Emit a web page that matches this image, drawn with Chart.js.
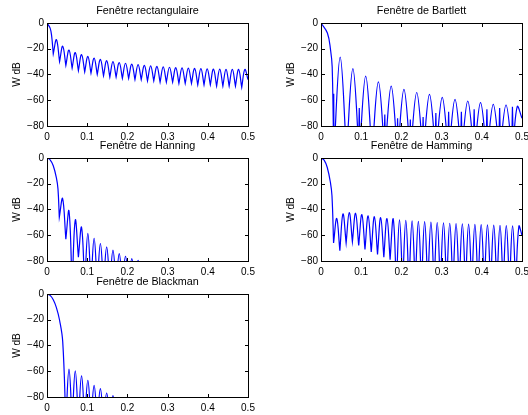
<!DOCTYPE html>
<html>
<head>
<meta charset="utf-8">
<script src="https://cdn.jsdelivr.net/npm/chart.js@4.4.1/dist/chart.umd.min.js"></script>
<style>
  body { margin: 0; background: #fff; }
  #wrap { position: relative; width: 528px; height: 415px; overflow: hidden; }
  #wrap canvas { position: absolute; }
</style>
</head>
<body>
<div id="wrap">
  <canvas id="rect" width="264" height="140" style="left:0;top:0"></canvas>
  <canvas id="bart" width="254" height="140" style="left:274px;top:0"></canvas>
  <canvas id="hann" width="264" height="140" style="left:0;top:135px"></canvas>
  <canvas id="hamm" width="254" height="140" style="left:274px;top:135px"></canvas>
  <canvas id="black" width="264" height="144" style="left:0;top:271px"></canvas>
</div>
<script>
// axes
const freqTicks = [0, 0.1, 0.2, 0.3, 0.4, 0.5];
const dbTicks = [-80, -60, -40, -20, 0];

// rectangular window (N = 64)
const rectMainF = [0, 0.0078, 0.0117];
const rectMainDb = [0, -4, -10.5];
const rectNulls = [0.0156, 0.0313, 0.0469, 0.0625, 0.0781, 0.0938, 0.1094, 0.125, 0.1406, 0.1563,
  0.1719, 0.1875, 0.2031, 0.2188, 0.2344, 0.25, 0.2656, 0.2813, 0.2969, 0.3125,
  0.3281, 0.3438, 0.3594, 0.375, 0.3906, 0.4063, 0.4219, 0.4375, 0.4531, 0.4688, 0.4844];
const rectDipDb = [-24, -30, -33, -35, -37, -38, -39, -40, -41, -42,
  -42, -43, -43, -44, -44, -45, -45, -46, -46, -46,
  -47, -47, -47, -48, -48, -48, -49, -49, -49, -49, -50];
const rectPeakDb = [-13, -18, -21, -23, -24.6, -26, -27.2, -28.3, -29.2, -30,
  -30.7, -31.3, -31.9, -32.4, -32.9, -33.3, -33.7, -34.1, -34.4, -34.7,
  -34.9, -35.1, -35.3, -35.5, -35.7, -35.8, -35.9, -36, -36.1, -36.1, -36.1];
const rectEnd = [0.5, -44];

// Bartlett
const bartMainF = [0, 0.0159, 0.0238, 0.0278];
const bartMainDb = [0, -7.8, -21, -34];
const bartNulls = [0.0317, 0.0635, 0.0952, 0.127, 0.1587, 0.1905, 0.2222, 0.254, 0.2857, 0.3175,
  0.3492, 0.381, 0.4127, 0.4444, 0.4762];
const bartDipDb = [-100, -100, -100, -100, -100, -100, -100, -100, -100, -100,
  -100, -100, -100, -100, -100];
const bartNotchDb = [-55, -90, -66, -90, -71, -74, -75, -73, -70, -69,
  -69, -67, -67, -66, -65];
const bartPeakDb = [-26.5, -35.5, -41.3, -45.7, -49, -51.6, -54, -55.5, -57.8, -59.4,
  -60.6, -61.9, -63.2, -63.7, -65];
const bartEnd = [0.5, -74];

// Hanning
const hannMainF = [0, 0.0078, 0.0156, 0.0234, 0.0273];
const hannMainDb = [0, -1.4, -6, -15.4, -24];
const hannNulls = [0.0306, 0.0469, 0.0625, 0.0781, 0.0938, 0.1094, 0.125, 0.1406, 0.1563, 0.1719,
  0.1875, 0.2031, 0.2188, 0.2344];
const hannDipDb = [-46, -63, -100, -77, -100, -100, -100, -100, -100, -100,
  -100, -100, -100, -100];
const hannPeakDb = [-31.5, -41.2, -48.2, -53.9, -58.6, -62.5, -66.4, -69, -71.6, -74.2,
  -76.3, -78.1, -79.5];

// Hamming
const hammMainF = [0, 0.0078, 0.0156, 0.0234, 0.0273];
const hammMainDb = [0, -1.7, -7.4, -18.9, -29.4];
const hammNulls = [0.0313, 0.0469, 0.0625, 0.0781, 0.0938, 0.1094, 0.125, 0.1406, 0.1563, 0.1719,
  0.1875, 0.2031, 0.2188, 0.2344, 0.25, 0.2656, 0.2813, 0.2969, 0.3125, 0.3281,
  0.3438, 0.3594, 0.375, 0.3906, 0.4063, 0.4219, 0.4375, 0.4531, 0.4688, 0.4844];
const hammDipDb = [-66, -72, -66, -65, -68, -71, -73, -75, -77, -79,
  -100, -100, -100, -100, -100, -100, -100, -100, -100, -100,
  -100, -100, -100, -100, -100, -100, -100, -100, -100, -100];
const hammPeakDb = [-47, -43.5, -42.5, -43, -44, -45, -45.6, -46.4, -47, -47.4,
  -48, -48.4, -48.8, -49.2, -49.5, -49.8, -50.1, -50.4, -50.7, -51,
  -51.2, -51.4, -51.6, -51.8, -52, -52.2, -52.4, -52.6, -52.8, -53];
const hammEnd = [0.5, -60];

// Blackman
const blackMainF = [0, 0.0078, 0.0156, 0.0234, 0.0313, 0.0391];
const blackMainDb = [0, -1.1, -4.5, -10.6, -20.4, -37];
const blackNulls = [0.0469, 0.0625, 0.0781, 0.0938, 0.1094, 0.125, 0.1406, 0.1563, 0.1719, 0.1875];
const blackDipDb = [-100, -100, -100, -100, -100, -100, -100, -100, -100, -100];
const blackPeakDb = [-58.4, -59.7, -63.6, -67, -70.9, -73.5, -76.9, -79, -82];

const FONT = "'Liberation Sans', Arial, Helvetica, sans-serif";

// main lobe, then one arch per side lobe, cusp (or notch) at each null
function curve(w) {
  const pts = w.mainF.map((f, i) => ({ x: f, y: w.mainDb[i] }));
  w.nulls.forEach((f, i) => {
    pts.push({ x: f, y: w.dips[i] });
    if (w.notches) {
      pts.push({ x: f, y: w.notches[i] });
    }
    pts.push({ x: f, y: w.dips[i] });
    if (i < w.peaks.length) {
      const next = i + 1 < w.nulls.length ? w.nulls[i + 1] : w.end[0];
      pts.push({ x: (f + next) / 2, y: w.peaks[i] });
    }
  });
  if (w.end) pts.push({ x: w.end[0], y: w.end[1] });
  return pts;
}

// matlab style box with inward ticks, placed from the scales themselves
function drawBox(chart) {
  try {
    const ctx = chart.ctx, x = chart.scales.x, y = chart.scales.y;
    const L = Math.round(x.getPixelForValue(freqTicks[0]));
    const R = Math.round(x.getPixelForValue(freqTicks[freqTicks.length - 1]));
    const B = Math.round(y.getPixelForValue(dbTicks[0]));
    const T = Math.round(y.getPixelForValue(dbTicks[dbTicks.length - 1]));
    ctx.save();
    ctx.setTransform(1, 0, 0, 1, 0, 0);
    ctx.globalAlpha = 1;
    ctx.globalCompositeOperation = 'source-over';
    ctx.fillStyle = '#000';
    ctx.fillRect(L, T, R - L + 1, 1);
    ctx.fillRect(L, B, R - L + 1, 1);
    ctx.fillRect(L, T, 1, B - T + 1);
    ctx.fillRect(R, T, 1, B - T + 1);
    freqTicks.forEach(v => {
      const px = Math.round(x.getPixelForValue(v));
      ctx.fillRect(px, B - 3, 1, 3);
      ctx.fillRect(px, T + 1, 1, 3);
    });
    dbTicks.forEach(v => {
      const py = Math.round(y.getPixelForValue(v));
      ctx.fillRect(L + 1, py, 3, 1);
      ctx.fillRect(R - 3, py, 3, 1);
    });
    ctx.restore();
  } catch (e) {
    console.log(e);
  }
}

const boxPlugin = { id: 'matlabBox', afterDraw: chart => drawBox(chart) };

function makeChart(id, title, w, rightPad, xHeight) {
  const chart = new Chart(document.getElementById(id), {
    type: 'line',
    data: {
      datasets: [{
        data: curve(w),
        borderColor: '#0000ff',
        borderWidth: 1.2,
        pointRadius: 0,
        tension: 0.4,
        fill: false
      }]
    },
    options: {
      responsive: false,
      animation: false,
      devicePixelRatio: 1,
      layout: { padding: { left: 0, right: rightPad, top: 0, bottom: 0 }, autoPadding: false },
      plugins: {
        legend: { display: false },
        tooltip: { enabled: false },
        title: {
          display: true, text: title, color: '#000', fullSize: false,
          font: { family: FONT, size: 10.8, weight: 'normal', lineHeight: 1.2 },
          padding: { top: 4.5, bottom: 5.5 }
        }
      },
      scales: {
        x: {
          type: 'linear', min: 0, max: 0.5,
          afterBuildTicks: s => { s.ticks = freqTicks.map(v => ({ value: v })); },
          afterFit: s => { s.height = xHeight; s.paddingLeft = 0; s.paddingRight = 0; },
          grid: { display: false, drawTicks: false },
          border: { display: false },
          ticks: {
            color: '#000', padding: 5, maxRotation: 0,
            font: { family: FONT, size: 10 },
            callback: v => String(+v.toFixed(1))
          }
        },
        y: {
          type: 'linear', min: -80, max: 0,
          afterBuildTicks: s => { s.ticks = dbTicks.map(v => ({ value: v })); },
          afterFit: s => { s.width = 47; s.paddingTop = 0; s.paddingBottom = 0; },
          grid: { display: false, drawTicks: false },
          border: { display: false },
          ticks: {
            color: '#000', padding: 3,
            font: { family: FONT, size: 10 },
            callback: v => v < 0 ? '\u2212' + Math.abs(v) : '0'
          },
          title: {
            display: true, text: 'W dB', color: '#000',
            font: { family: FONT, size: 10 },
            padding: { top: 11, bottom: 0 }
          }
        }
      }
    },
    plugins: [boxPlugin]
  });
  drawBox(chart);
  return chart;
}

makeChart('rect', 'Fenêtre rectangulaire',
  { mainF: rectMainF, mainDb: rectMainDb, nulls: rectNulls, dips: rectDipDb, peaks: rectPeakDb, end: rectEnd }, 16, 14);
makeChart('bart', 'Fenêtre de Bartlett',
  { mainF: bartMainF, mainDb: bartMainDb, nulls: bartNulls, dips: bartDipDb, notches: bartNotchDb, peaks: bartPeakDb, end: bartEnd }, 6, 14);
makeChart('hann', 'Fenêtre de Hanning',
  { mainF: hannMainF, mainDb: hannMainDb, nulls: hannNulls, dips: hannDipDb, peaks: hannPeakDb }, 16, 14);
makeChart('hamm', 'Fenêtre de Hamming',
  { mainF: hammMainF, mainDb: hammMainDb, nulls: hammNulls, dips: hammDipDb, peaks: hammPeakDb, end: hammEnd }, 6, 14);
makeChart('black', 'Fenêtre de Blackman',
  { mainF: blackMainF, mainDb: blackMainDb, nulls: blackNulls, dips: blackDipDb, peaks: blackPeakDb }, 16, 18);
</script>
</body>
</html>
